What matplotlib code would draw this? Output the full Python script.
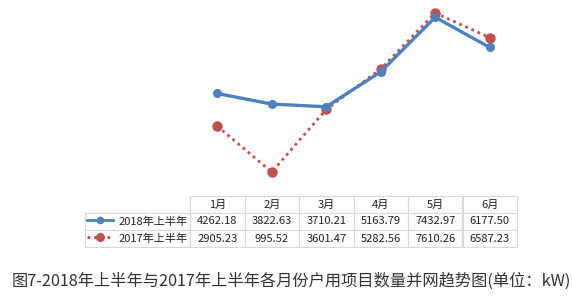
import matplotlib.pyplot as plt
from matplotlib.lines import Line2D

plt.rcParams['font.family'] = ['Noto Sans CJK SC', 'DejaVu Sans']

months = ['1月', '2月', '3月', '4月', '5月', '6月']
labels = ['2018年上半年', '2017年上半年']
v2018 = [4262.18, 3822.63, 3710.21, 5163.79, 7432.97, 6177.50]
v2017 = [2905.23, 995.52, 3601.47, 5282.56, 7610.26, 6587.23]

blue = '#4f81bd'
red = '#c0504d'
grid = '#d9d9d9'

W, H = 572, 303
fig = plt.figure(figsize=(W / 100, H / 100), dpi=100)

# plot area lines up with the 6 month columns of the table
ax = fig.add_axes([190 / W, 1 - 196 / H, 327 / W, 196 / H])
x = list(range(len(months)))
ax.plot(x, v2017, color=red, lw=2, ls=(0, (1, 1.4)), marker='o', ms=6.5, zorder=2)
ax.plot(x, v2018, color=blue, lw=2.4, marker='o', ms=5.5, zorder=3)
ax.set_xlim(-0.5, 5.5)
ax.set_ylim(0, 8150)
ax.axis('off')

# data table under the plot
cells = [[''] + months]
for lab, vals in zip(labels, [v2018, v2017]):
    cells.append([lab] + [f'{v:.2f}' for v in vals])
left = (85 - 190) / 327
tbl = ax.table(cellText=cells, cellLoc='center',
               colWidths=[105] + [54.5] * 6,
               bbox=[left, -51 / 196, 1 - left, 51 / 196])
tbl.auto_set_font_size(False)
for (r, c), cell in tbl.get_celld().items():
    cell.set_edgecolor(grid)
    cell.set_linewidth(0.8)
    cell.get_text().set_fontsize(8)
    cell.get_text().set_color('#222222')
    if r == 0 and c == 0:
        cell.visible_edges = 'BR'
    if c == 0 and r > 0:
        cell.get_text().set_ha('right')
        cell._loc = 'right'
        cell.PAD = 0.02

# legend keys inside the row label cells
for row_y, col, ls, ms in [(220, blue, '-', 4.5), (237, red, (0, (1, 1.4)), 5.5)]:
    yy = 1 - row_y / H
    fig.add_artist(Line2D([87 / W, 113 / W], [yy, yy], color=col, lw=2, ls=ls))
    fig.add_artist(Line2D([100 / W], [yy], color=col, marker='o', ms=ms, lw=0))

fig.text(12 / W, 1 - 281 / H,
         '图7-2018年上半年与2017年上半年各月份户用项目数量并网趋势图(单位：kW)',
         fontsize=11.7, color='#333333', va='center', ha='left')

fig.savefig('out.png', dpi=100)
